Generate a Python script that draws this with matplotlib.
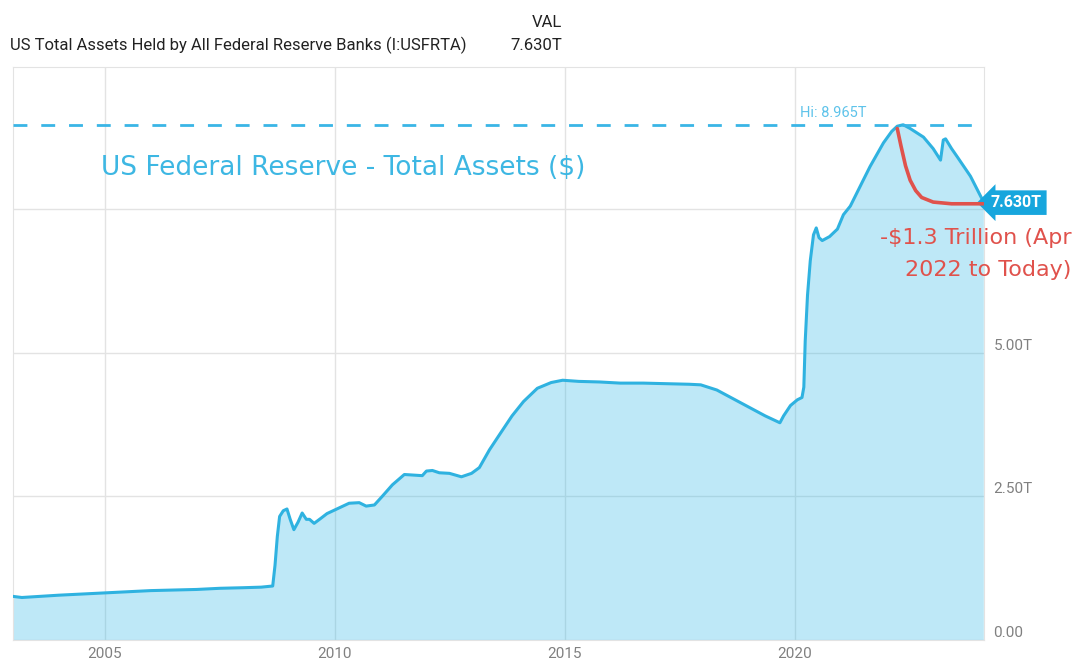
import numpy as np
import matplotlib.pyplot as plt

# Fed total assets (trillions USD)
years = [2003.00, 2003.20, 2003.60, 2004.00, 2004.50, 2005.00, 2005.50, 2006.00, 2006.50,
         2007.00, 2007.50, 2008.00, 2008.40, 2008.65, 2008.70, 2008.75, 2008.80, 2008.88,
         2008.96, 2009.03, 2009.11, 2009.20, 2009.29, 2009.38, 2009.45, 2009.55, 2009.70,
         2009.83, 2009.99, 2010.15, 2010.31, 2010.53, 2010.68, 2010.86, 2011.03, 2011.25,
         2011.51, 2011.90, 2011.99, 2012.12, 2012.27, 2012.49, 2012.75, 2012.97, 2013.14,
         2013.36, 2013.60, 2013.85, 2014.10, 2014.40, 2014.70, 2014.95, 2015.30, 2015.75,
         2016.20, 2016.70, 2017.20, 2017.70, 2017.95, 2018.30, 2018.65, 2019.00, 2019.35,
         2019.67, 2019.75, 2019.90, 2020.05, 2020.15, 2020.19, 2020.22, 2020.27, 2020.33,
         2020.40, 2020.46, 2020.52, 2020.59, 2020.75, 2020.92, 2021.05, 2021.20, 2021.48,
         2021.63, 2021.92, 2022.10, 2022.22, 2022.35, 2022.50, 2022.79, 2023.00, 2023.16,
         2023.22, 2023.27, 2023.40, 2023.53, 2023.81, 2024.09]
assets = [0.76, 0.74, 0.76, 0.78, 0.80, 0.82, 0.84, 0.86, 0.87,
          0.88, 0.90, 0.91, 0.92, 0.94, 1.30, 1.80, 2.15, 2.25,
          2.28, 2.10, 1.92, 2.05, 2.21, 2.10, 2.10, 2.03, 2.12,
          2.20, 2.26, 2.32, 2.38, 2.39, 2.33, 2.35, 2.50, 2.70,
          2.88, 2.86, 2.94, 2.95, 2.91, 2.90, 2.84, 2.90, 3.00,
          3.31, 3.60, 3.90, 4.15, 4.38, 4.48, 4.52, 4.50, 4.49,
          4.47, 4.47, 4.46, 4.45, 4.44, 4.35, 4.20, 4.05, 3.90,
          3.78, 3.90, 4.08, 4.18, 4.22, 4.40, 5.20, 6.00, 6.60,
          7.05, 7.17, 7.00, 6.95, 7.02, 7.15, 7.40, 7.55, 8.00,
          8.24, 8.65, 8.85, 8.94, 8.965, 8.90, 8.75, 8.55, 8.35,
          8.70, 8.72, 8.55, 8.40, 8.07, 7.63]

# hand drawn red annotation curve
red_years = [2022.22, 2022.30, 2022.40, 2022.50, 2022.62, 2022.75, 2023.00, 2023.40, 2024.09]
red_vals = [8.90, 8.60, 8.25, 8.00, 7.82, 7.70, 7.62, 7.59, 7.59]

hi_val = 8.965
last_val = 7.630
yticks = [0, 2.5, 5, 7.5]
ytick_labels = ['0.00', '2.50T', '5.00T', '']
xticks = [2005, 2010, 2015, 2020]

line_col = '#2fb2e0'
narrow = ['Liberation Sans Narrow', 'Roboto', 'DejaVu Sans']

fig = plt.figure(figsize=(10.74, 6.64), dpi=100)
ax = fig.add_axes([0.0118, 0.0361, 0.9042, 0.8630])

ax.fill_between(years, assets, 0, color='#29b6e6', alpha=0.30, lw=0, zorder=2)
ax.plot(years, assets, color=line_col, lw=2.2, zorder=3)
ax.plot(red_years, red_vals, color='#e0524c', lw=2.6, zorder=4, solid_capstyle='round')
ax.axhline(hi_val, color='#3ab5e6', lw=2, dashes=(5, 5), zorder=3)

ax.set_xlim(2003.0, 2024.1)
ax.set_ylim(0, 9.97)
ax.set_xticks(xticks)
ax.set_yticks(yticks)
ax.grid(True, color='#e3e3e3', lw=1, zorder=1)
ax.set_axisbelow(True)
for s in ax.spines.values():
    s.set_color('#e3e3e3')

ax.yaxis.tick_right()
ax.set_yticklabels(ytick_labels, family=narrow, fontsize=11, color='#808080', va='bottom')
ax.set_xticklabels([str(x) for x in xticks], family=narrow, fontsize=11, color='#808080')
ax.tick_params(length=0, pad=7)
ax.tick_params(axis='x', pad=5)

# header
fig.text(0.009, 0.925, 'US Total Assets Held by All Federal Reserve Banks (I:USFRTA)',
         family=narrow, fontsize=12, color='#222222', va='baseline')
fig.text(0.523, 0.925, '7.630T', family=narrow, fontsize=12, color='#222222',
         va='baseline', ha='right')
fig.text(0.523, 0.960, 'VAL', family=narrow, fontsize=12, color='#222222',
         va='baseline', ha='right')

# annotations
ax.text(2004.91, 8.22, 'US Federal Reserve - Total Assets ($)', fontsize=19,
        family='DejaVu Sans', color='#3db7e3', va='center')
ax.text(2020.1, hi_val + 0.08, 'Hi: 8.965T', fontsize=10.5, color='#5ec3ea', family=narrow,
        va='bottom')
ax.text(2024.25, 7.61, '7.630T', fontsize=11.5, color='white', weight='bold',
        family=narrow, va='center', ha='left', clip_on=False,
        bbox=dict(boxstyle='larrow,pad=0.3', fc='#17a6dd', ec='none'))
fig.text(0.998, 0.617, '-$1.3 Trillion (Apr\n2022 to Today)', fontsize=16,
         color='#e0524c', ha='right', va='center', linespacing=1.75, family='DejaVu Sans')

fig.savefig('out.png', dpi=100)
